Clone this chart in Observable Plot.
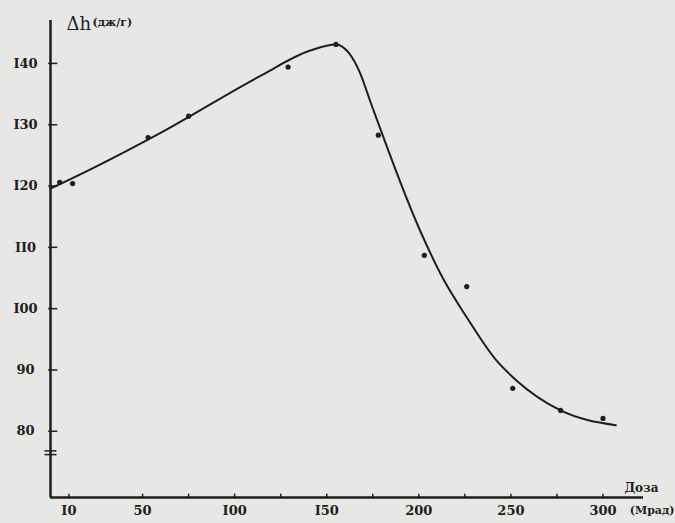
<!DOCTYPE html>
<html>
<head>
<meta charset="utf-8">
<script src="https://cdn.jsdelivr.net/npm/d3@7"></script>
<script src="https://cdn.jsdelivr.net/npm/@observablehq/plot@0.6"></script>
<style>
  html, body { margin: 0; padding: 0; background: #e7e7e5; }
  #chart svg { display: block; }
</style>
</head>
<body>
<div id="chart"></div>
<script>
// ---- data ----
const xTicks = [10, 50, 100, 150, 200, 250, 300];
const xTickLabels = ["I0", "50", "I00", "I50", "200", "250", "300"];
const xMinorTicks = [75, 125, 175, 225, 275];
const yTicks = [80, 90, 100, 110, 120, 130, 140];
const yTickLabels = ["80", "90", "I00", "II0", "I20", "I30", "I40"];
const yBreak = [76.2, 76.8];

// smooth curve drawn through the data
const curveDose = [0, 10, 60, 113, 141, 155, 162, 168, 174, 200, 213, 226, 242, 253, 277, 307];
const curveH    = [119.6, 121, 128.7, 137.8, 142.1, 143.1, 141.7, 138.5, 133.5, 113.2, 105, 98.6, 91.6, 88.3, 83.4, 81];

// measured points
const pointDose = [5, 12, 53, 75, 129, 155, 178, 203, 226, 251, 277, 300];
const pointH    = [120.6, 120.4, 127.9, 131.4, 139.4, 143.1, 128.3, 108.7, 103.6, 87, 83.4, 82.1];

const xDomain = [0, 322];
const yDomain = [69.2, 147];

const curve = curveDose.map((d, i) => ({dose: d, h: curveH[i]}));
const points = pointDose.map((d, i) => ({dose: d, h: pointH[i]}));

const ink = "#1e1e1e";
const font = "'DejaVu Serif', serif";

const chart = Plot.plot({
  width: 675,
  height: 523,
  marginLeft: 50,
  marginRight: 32,
  marginTop: 20,
  marginBottom: 26,
  style: {background: "#e7e7e5", fontFamily: font, color: ink},
  x: {domain: xDomain},
  y: {domain: yDomain},
  marks: [
    // axes lines
    Plot.ruleX([xDomain[0]], {stroke: ink, strokeWidth: 2.5}),
    Plot.ruleY([yDomain[0]], {stroke: ink, strokeWidth: 2.5}),
    // y ticks (inward)
    Plot.ruleY(yTicks, {x1: -1, x2: 4, stroke: ink, strokeWidth: 1.5}),
    // y axis break
    Plot.ruleY(yBreak, {x1: -3, x2: 3.5, stroke: ink, strokeWidth: 1.5}),
    // x ticks (inward)
    Plot.ruleX(xTicks.concat(xMinorTicks), {y1: yDomain[0], y2: yDomain[0] + 0.55, stroke: ink, strokeWidth: 1.5}),
    Plot.axisY({
      ticks: yTicks,
      tickFormat: (d) => yTickLabels[yTicks.indexOf(d)],
      tickSize: 0,
      tickPadding: 25,
      textAnchor: "middle",
      fontSize: 13,
      fontWeight: "bold",
      fill: ink,
      label: null
    }),
    Plot.axisX({
      ticks: xTicks,
      tickFormat: (d) => xTickLabels[xTicks.indexOf(d)],
      tickSize: 0,
      tickPadding: 8,
      fontSize: 13,
      fontWeight: "bold",
      fill: ink,
      label: null
    }),
    // the curve
    Plot.line(curve, {x: "dose", y: "h", curve: "monotone-x", stroke: ink, strokeWidth: 2}),
    // measured points
    Plot.dot(points, {x: "dose", y: "h", r: 2.6, fill: ink, stroke: "none"}),
    // labels
    Plot.text(["Δh"], {frameAnchor: "top-left", textAnchor: "start", dx: 16, dy: -3, fontSize: 18, fontFamily: font, fill: ink}),
    Plot.text(["(дж/г)"], {frameAnchor: "top-left", textAnchor: "start", dx: 42, dy: -2, fontSize: 11, fontWeight: "bold", fontFamily: font, fill: ink, style: {letterSpacing: "1.5px"}}),
    Plot.text(["Доза"], {frameAnchor: "bottom-right", textAnchor: "end", dx: 15, dy: -6, fontSize: 12, fontWeight: "bold", fontFamily: font, fill: ink}),
    Plot.text(["(Мрад)"], {frameAnchor: "bottom-right", textAnchor: "end", dx: 31, dy: 16, fontSize: 11, fontWeight: "bold", fontFamily: font, fill: ink})
  ]
});

document.getElementById("chart").appendChild(chart);
</script>
</body>
</html>
